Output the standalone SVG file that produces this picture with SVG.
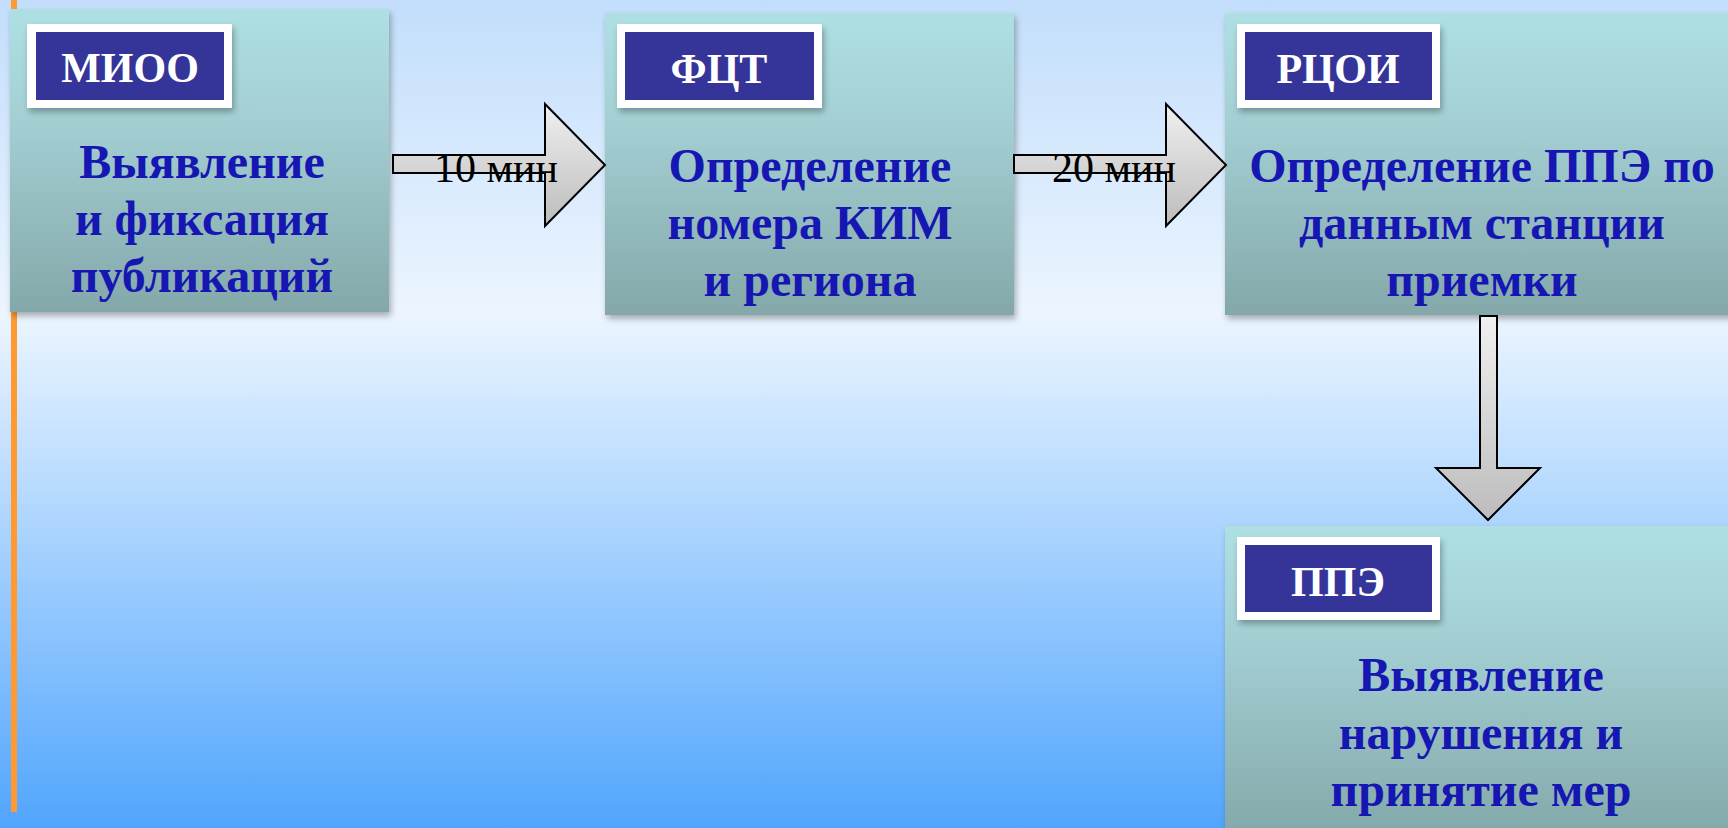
<svg xmlns="http://www.w3.org/2000/svg" width="1728" height="828" viewBox="0 0 1728 828">
<defs>
<linearGradient id="bg" x1="0" y1="0" x2="0" y2="1">
<stop offset="0" stop-color="#c2defb"/>
<stop offset="0.38" stop-color="#ecf5ff"/>
<stop offset="1" stop-color="#51a5fd"/>
</linearGradient>
<linearGradient id="box" x1="0" y1="0" x2="0" y2="1">
<stop offset="0" stop-color="#aee0e3"/>
<stop offset="0.35" stop-color="#a4d0d4"/>
<stop offset="1" stop-color="#84a8aa"/>
</linearGradient>
<linearGradient id="arr" x1="0" y1="0" x2="0" y2="1">
<stop offset="0" stop-color="#f0f0f0"/>
<stop offset="1" stop-color="#bcbcbc"/>
</linearGradient>
<filter id="sh" x="-10%" y="-10%" width="130%" height="130%">
<feDropShadow dx="2" dy="4" stdDeviation="3" flood-color="#000" flood-opacity="0.3"/>
</filter>
</defs>
<style>
.box{fill:url(#box);filter:url(#sh)}
.lblw{fill:#ffffff;filter:url(#sh)}
.lblb{fill:#343499}
.lbt{font-family:"Liberation Serif",serif;font-weight:bold;font-size:42px;fill:#ffffff;text-anchor:middle}
.body{font-family:"Liberation Serif",serif;font-weight:bold;font-size:48px;fill:#1616b2;text-anchor:middle}
.arrow{stroke:#000;stroke-width:2;stroke-linejoin:miter}
.at{font-family:"Liberation Serif",serif;font-size:42px;fill:#000}
</style>
<rect x="0" y="0" width="1728" height="828" fill="url(#bg)"/>
<rect x="11" y="0" width="6" height="812" fill="#ff9a33"/>

<g id="node-mioo">
<rect class="box" x="10" y="9" width="379" height="303"/>
<rect class="lblw" x="27" y="24" width="205" height="84"/>
<rect class="lblb" x="36" y="32" width="188" height="68"/>
<text class="lbt" x="130" y="82">МИОО</text>
<text class="body" x="202" y="178">Выявление</text>
<text class="body" x="202" y="235">и фиксация</text>
<text class="body" x="202" y="292">публикаций</text>
</g>

<g id="node-fct">
<rect class="box" x="605" y="13" width="409" height="302"/>
<rect class="lblw" x="617" y="24" width="205" height="84"/>
<rect class="lblb" x="625" y="32" width="189" height="68"/>
<text class="lbt" x="719" y="83">ФЦТ</text>
<text class="body" x="810" y="182">Определение</text>
<text class="body" x="810" y="239">номера КИМ</text>
<text class="body" x="810" y="296">и региона</text>
</g>

<g id="node-rcoi">
<rect class="box" x="1225" y="13" width="510" height="302"/>
<rect class="lblw" x="1237" y="24" width="203" height="84"/>
<rect class="lblb" x="1245" y="32" width="187" height="68"/>
<text class="lbt" x="1338" y="83">РЦОИ</text>
<text class="body" x="1482" y="182">Определение ППЭ по</text>
<text class="body" x="1482" y="239">данным станции</text>
<text class="body" x="1482" y="296">приемки</text>
</g>

<g id="node-ppe">
<rect class="box" x="1225" y="526" width="510" height="310"/>
<rect class="lblw" x="1237" y="537" width="203" height="83"/>
<rect class="lblb" x="1245" y="545" width="187" height="67"/>
<text class="lbt" x="1338" y="596">ППЭ</text>
<text class="body" x="1481" y="691">Выявление</text>
<text class="body" x="1481" y="749">нарушения и</text>
<text class="body" x="1481" y="806">принятие мер</text>
</g>

<g id="connectors">
<path class="arrow" fill="url(#arr)" d="M393,155 H545 V104 L605,165 L545,226 V173 H393 Z"/>
<text class="at" x="434" y="182">10 мин</text>
<path class="arrow" fill="url(#arr)" d="M1014,155 H1166 V104 L1226,165 L1166,226 V173 H1014 Z"/>
<text class="at" x="1052" y="182">20 мин</text>
<path class="arrow" fill="url(#arr)" d="M1480,316 H1497 V468 H1540 L1488,520 L1436,468 H1480 Z"/>
</g>
</svg>
